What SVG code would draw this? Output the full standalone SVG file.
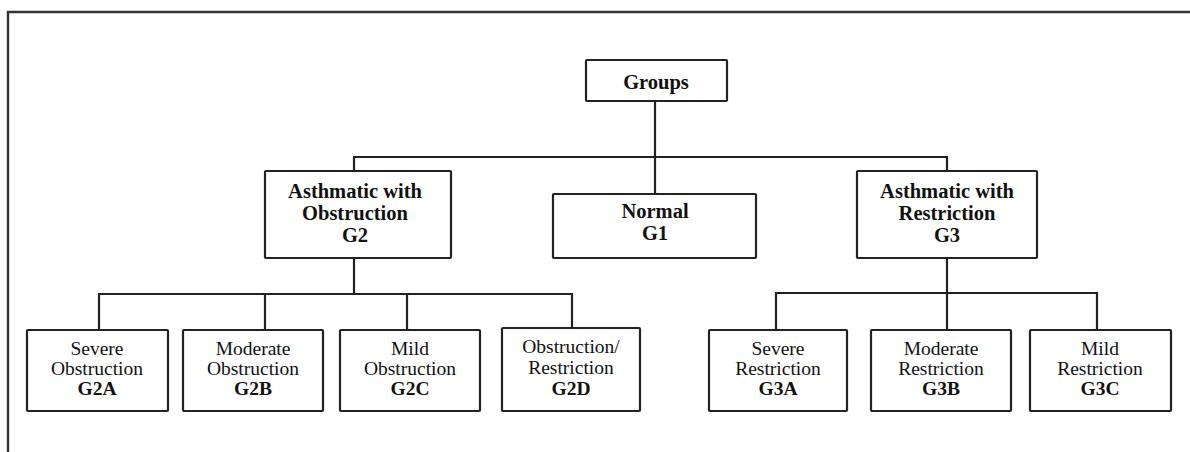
<svg xmlns="http://www.w3.org/2000/svg" width="1190" height="452" viewBox="0 0 1190 452">
<style>
.box{fill:#fff;stroke:#222;stroke-width:2.2}
.ln{fill:none;stroke:#222;stroke-width:2.2}
text{font-family:"Liberation Serif","Times New Roman",serif;fill:#111;text-anchor:middle}
.b{font-weight:bold;font-size:20.5px}
.r{font-size:19.5px}
.rb{font-size:19.5px;font-weight:bold}
</style>
<rect width="1190" height="452" fill="#fff"/>
<path d="M8,452 V12 H1190" fill="none" stroke="#333" stroke-width="2.4"/>
<g id="connectors">
<path class="ln" d="M655,101 V194"/>
<path class="ln" d="M354,171 V157 H947 V171"/>
<path class="ln" d="M354,258 V294"/>
<path class="ln" d="M99,330 V294 H572 V328"/>
<path class="ln" d="M265,294 V330"/>
<path class="ln" d="M407,294 V330"/>
<path class="ln" d="M947,258 V330"/>
<path class="ln" d="M776,330 V293 H1097 V330"/>
</g>
<g id="groups"><rect class="box" x="586" y="60" width="141" height="41" rx="1"/><text class="b" x="656" y="89">Groups</text></g>
<g id="g2"><rect class="box" x="265" y="171" width="186" height="87" rx="1"/><text class="b" x="355" y="198">Asthmatic with</text><text class="b" x="355" y="220">Obstruction</text><text class="b" x="355" y="242">G2</text></g>
<g id="g1"><rect class="box" x="553" y="194" width="203" height="64" rx="1"/><text class="b" x="655" y="218">Normal</text><text class="b" x="655" y="240">G1</text></g>
<g id="g3"><rect class="box" x="857" y="171" width="180" height="87" rx="1"/><text class="b" x="947" y="198">Asthmatic with</text><text class="b" x="947" y="220">Restriction</text><text class="b" x="947" y="242">G3</text></g>
<g id="g2a"><rect class="box" x="27" y="330" width="141" height="81" rx="1"/><text class="r" x="97" y="355">Severe</text><text class="r" x="97" y="375">Obstruction</text><text class="rb" x="97" y="395">G2A</text></g>
<g id="g2b"><rect class="box" x="183" y="330" width="140" height="81" rx="1"/><text class="r" x="253" y="355">Moderate</text><text class="r" x="253" y="375">Obstruction</text><text class="rb" x="253" y="395">G2B</text></g>
<g id="g2c"><rect class="box" x="340" y="330" width="140" height="81" rx="1"/><text class="r" x="410" y="355">Mild</text><text class="r" x="410" y="375">Obstruction</text><text class="rb" x="410" y="395">G2C</text></g>
<g id="g2d"><rect class="box" x="502" y="328" width="138" height="83" rx="1"/><text class="r" x="571" y="353">Obstruction/</text><text class="r" x="571" y="374">Restriction</text><text class="rb" x="571" y="395">G2D</text></g>
<g id="g3a"><rect class="box" x="709" y="330" width="138" height="81" rx="1"/><text class="r" x="778" y="355">Severe</text><text class="r" x="778" y="375">Restriction</text><text class="rb" x="778" y="395">G3A</text></g>
<g id="g3b"><rect class="box" x="871" y="330" width="140" height="81" rx="1"/><text class="r" x="941" y="355">Moderate</text><text class="r" x="941" y="375">Restriction</text><text class="rb" x="941" y="395">G3B</text></g>
<g id="g3c"><rect class="box" x="1030" y="330" width="141" height="81" rx="1"/><text class="r" x="1100" y="355">Mild</text><text class="r" x="1100" y="375">Restriction</text><text class="rb" x="1100" y="395">G3C</text></g>
</svg>
